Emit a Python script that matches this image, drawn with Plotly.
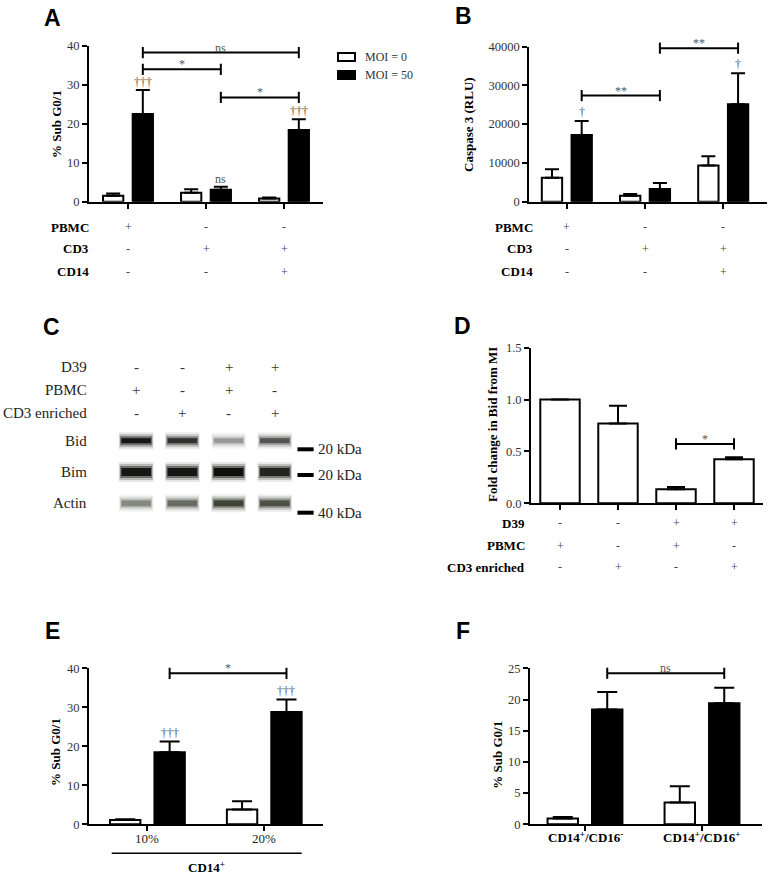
import plotly.graph_objects as go

W, H = 769, 877
SERIF = "Liberation Serif"
SANS = "Liberation Sans"

# ---------------- data ----------------
legend_labels = ["MOI = 0", "MOI = 50"]

a_rows = ["PBMC", "CD3", "CD14"]
a_signs = [["+", "-", "-"], ["-", "+", "+"], ["-", "-", "+"]]
a_moi0 = [1.5, 2.3, 0.85]
a_moi0_sem = [0.6, 0.9, 0.25]
a_moi50 = [22.5, 3.1, 18.4]
a_moi50_sem = [6.2, 0.75, 2.8]
a_marks = ["†††", "ns", "†††"]
a_brackets = [(0, 2, 38.3, "ns"), (0, 1, 34.0, "*"), (1, 2, 26.8, "*")]

b_rows = ["PBMC", "CD3", "CD14"]
b_signs = [["+", "-", "-"], ["-", "+", "+"], ["-", "-", "+"]]
b_moi0 = [6200, 1550, 9300]
b_moi0_sem = [2150, 430, 2400]
b_moi50 = [17200, 3270, 25100]
b_moi50_sem = [3600, 1530, 8000]
b_marks = ["†", "", "†"]
b_brackets = [(0, 1, 27350, "**"), (1, 2, 39570, "**")]

c_rows = ["D39", "PBMC", "CD3 enriched"]
c_signs = [["-", "-", "+", "+"], ["+", "-", "+", "-"], ["-", "+", "-", "+"]]
c_proteins = ["Bid", "Bim", "Actin"]
c_intensity = [[0.95, 0.75, 0.28, 0.55],
               [0.95, 0.95, 1.0, 0.85],
               [0.4, 0.55, 0.8, 0.7]]
c_ladder_labels = ["20 kDa", "20 kDa", "40 kDa"]
c_ladder_pos = [0.275, 1.096, 2.30]

d_rows = ["D39", "PBMC", "CD3 enriched"]
d_signs = [["-", "-", "+", "+"], ["+", "-", "+", "-"], ["-", "+", "-", "+"]]
d_fold = [1.0, 0.77, 0.135, 0.424]
d_sem = [0.0, 0.17, 0.022, 0.019]
d_brackets = [(2, 3, 0.572, "*")]

e_cats = ["10%", "20%"]
e_moi0 = [1.1, 3.8]
e_moi0_sem = [0.2, 2.1]
e_moi50 = [18.5, 28.8]
e_moi50_sem = [2.7, 3.2]
e_marks = ["†††", "†††"]
e_brackets = [(0, 1, 38.7, "*")]

f_cats = ["CD14<sup>+</sup>/CD16<sup>-</sup>", "CD14<sup>+</sup>/CD16<sup>+</sup>"]
f_moi0 = [0.91, 3.5]
f_moi0_sem = [0.27, 2.6]
f_moi50 = [18.4, 19.4]
f_moi50_sem = [2.8, 2.5]
f_brackets = [(0, 1, 24.2, "ns")]

# ---------------- helpers ----------------
OFF, BW = 0.19, 0.26
fig = go.Figure()
layout = dict(template="none", width=W, height=H, autosize=False,
              margin=dict(l=0, r=0, t=0, b=0, pad=0),
              paper_bgcolor="white", plot_bgcolor="white", showlegend=False,
              font=dict(family=SERIF, size=12, color="#222"))
annotations, shapes = [], []


def px(x):
    return x / W


def py(y):
    return 1 - y / H


def axref(n):
    return ("x" if n == 1 else f"x{n}"), ("y" if n == 1 else f"y{n}")


def add_axes(n, xd, yd, xr, yr, xticks, yticks, tickfmt=None):
    xn = "xaxis" if n == 1 else f"xaxis{n}"
    yn = "yaxis" if n == 1 else f"yaxis{n}"
    xa, ya = axref(n)
    common = dict(showline=True, linecolor="black", linewidth=2, ticks="outside",
                  ticklen=5, tickwidth=1.5, tickcolor="black", showgrid=False,
                  zeroline=False, fixedrange=True, automargin=False)
    layout[xn] = dict(domain=[px(xd[0]), px(xd[1])], range=xr, anchor=ya,
                      tickvals=xticks, showticklabels=False, **common)
    layout[yn] = dict(domain=[py(yd[1]), py(yd[0])], range=yr, anchor=xa,
                      tickvals=yticks, tickfont=dict(family=SERIF, size=12.5, color="#333"),
                      **common)
    if tickfmt:
        layout[yn]["tickformat"] = tickfmt


def grouped_bars(n, v0, s0, v1, s1, capw):
    xa, ya = axref(n)
    g = list(range(len(v0)))
    for vals, sems, fill, dx in [(v0, s0, "white", -OFF), (v1, s1, "black", OFF)]:
        fig.add_trace(go.Bar(
            x=[i + dx for i in g], y=vals, width=BW, xaxis=xa, yaxis=ya,
            marker=dict(color=fill, line=dict(color="black", width=2)),
            error_y=dict(type="data", symmetric=False, array=sems,
                         arrayminus=[0] * len(sems), color="black",
                         thickness=2, width=capw),
            hoverinfo="skip"))


def brackets(n, specs, dx):
    xa, ya = axref(n)
    for i, j, h, lab in specs:
        fig.add_trace(go.Scatter(
            x=[i + dx, j + dx], y=[h, h], xaxis=xa, yaxis=ya, mode="lines+markers",
            line=dict(color="black", width=2),
            marker=dict(symbol="line-ns", size=8, line=dict(color="black", width=2)),
            hoverinfo="skip", cliponaxis=False))
        annotations.append(dict(x=(i + j) / 2 + dx, y=h, xref=xa, yref=ya, text=lab,
                                showarrow=False, yanchor="middle", yshift=5,
                                font=dict(family=SERIF, size=12, color="#555")))


def marks(n, texts, vals, sems, dx, yshift=0):
    xa, ya = axref(n)
    for i, t in enumerate(texts):
        if t:
            annotations.append(dict(x=i + dx, y=vals[i] + sems[i], xref=xa, yref=ya,
                                    text=t, showarrow=False, yanchor="bottom",
                                    yshift=yshift,
                                    font=dict(family=SERIF, size=12, color="#555")))


def table(n, rows, signs, label_right, row_ys):
    xa, _ = axref(n)
    for r, (lab, ypx) in enumerate(zip(rows, row_ys)):
        annotations.append(dict(x=px(label_right), y=py(ypx), xref="paper", yref="paper",
                                text=f"<b>{lab}</b>", showarrow=False, xanchor="right",
                                font=dict(family=SERIF, size=13, color="black")))
        for gi, s in enumerate(signs[r]):
            annotations.append(dict(x=gi, y=py(ypx), xref=xa, yref="paper", text=s,
                                    showarrow=False,
                                    font=dict(family=SERIF, size=12, color="#444")))


def ytitle(text, xpx, ypx):
    annotations.append(dict(x=px(xpx), y=py(ypx), xref="paper", yref="paper",
                            text=f"<b>{text}</b>", showarrow=False, textangle=-90,
                            font=dict(family=SERIF, size=13, color="black")))


def letter(t, xpx, ypx):
    annotations.append(dict(x=px(xpx), y=py(ypx), xref="paper", yref="paper",
                            text=f"<b>{t}</b>", showarrow=False,
                            font=dict(family=SANS, size=23, color="black")))


# ---------------- Panel A ----------------
add_axes(1, (89, 323), (46, 201.7), [-0.5, 2.5], [0, 40], [0, 1, 2], [0, 10, 20, 30, 40])
grouped_bars(1, a_moi0, a_moi0_sem, a_moi50, a_moi50_sem, 7)
brackets(1, a_brackets, OFF)
marks(1, a_marks, a_moi50, a_moi50_sem, OFF, yshift=-1)
table(1, a_rows, a_signs, 91, [227, 248.5, 272])
ytitle("% Sub G0/1", 57, 124)
letter("A", 52, 18)

# legend (drawn in the gap between A and B)
for k, (lab, fill, ypx) in enumerate(zip(legend_labels, ["white", "black"], [57, 75])):
    shapes.append(dict(type="rect", xref="paper", yref="paper",
                       x0=px(338), x1=px(355), y0=py(ypx + 4), y1=py(ypx - 4),
                       fillcolor=fill, line=dict(color="black", width=2)))
    annotations.append(dict(x=px(363), y=py(ypx), xref="paper", yref="paper", text=lab,
                            showarrow=False, xanchor="left",
                            font=dict(family=SERIF, size=12, color="#333")))

# ---------------- Panel B ----------------
add_axes(2, (529.3, 766.7), (46.5, 201.7), [-0.48, 2.556], [0, 40000], [0, 1, 2],
         [0, 10000, 20000, 30000, 40000], tickfmt="d")
grouped_bars(2, b_moi0, b_moi0_sem, b_moi50, b_moi50_sem, 7)
brackets(2, b_brackets, OFF)
marks(2, b_marks, b_moi50, b_moi50_sem, OFF)
table(2, b_rows, b_signs, 535, [227, 248.5, 272])
ytitle("Caspase 3 (RLU)", 468, 125)
letter("B", 463, 16)

# ---------------- Panel C (western blot) ----------------
layout["xaxis3"] = dict(domain=[px(100), px(360)], range=[-0.782, 4.843], visible=False,
                        anchor="y3", fixedrange=True, automargin=False)
layout["yaxis3"] = dict(domain=[py(525), py(420)], range=[2.693, -0.661], visible=False,
                        anchor="x3", fixedrange=True, automargin=False)
band_thick = [7, 10, 8]
band_rgb = ["12,12,10", "12,12,10", "38,44,30"]
band_layers = [(10, 0.375, 0.10), (6, 0.36, 0.22), (2, 0.345, 0.45), (-2, 0.32, 0.95)]
for r, row in enumerate(c_intensity):
    for l, inten in enumerate(row):
        for extra, half, alpha in band_layers:
            fig.add_trace(go.Scatter(
                x=[l - half, l + half], y=[r, r], xaxis="x3", yaxis="y3", mode="lines",
                line=dict(color=f"rgba({band_rgb[r]},{min(alpha * inten, 1):.3f})",
                          width=max(band_thick[r] + extra, 1)),
                hoverinfo="skip"))
for lab, pos in zip(c_ladder_labels, c_ladder_pos):
    fig.add_trace(go.Scatter(x=[3.49, 3.84], y=[pos, pos], xaxis="x3", yaxis="y3",
                             mode="lines", line=dict(color="black", width=4),
                             hoverinfo="skip"))
    annotations.append(dict(x=3.9, y=pos, xref="x3", yref="y3", text=lab,
                            showarrow=False, xanchor="left",
                            font=dict(family=SERIF, size=15, color="#222")))
for r, prot in enumerate(c_proteins):
    annotations.append(dict(x=px(89), y=r, xref="paper", yref="y3", text=prot,
                            showarrow=False, xanchor="right",
                            font=dict(family=SERIF, size=15, color="#222")))
for r, (lab, ypx) in enumerate(zip(c_rows, [367, 390, 412.7])):
    annotations.append(dict(x=px(89), y=py(ypx), xref="paper", yref="paper", text=lab,
                            showarrow=False, xanchor="right",
                            font=dict(family=SERIF, size=15, color="#222")))
    for l, s in enumerate(c_signs[r]):
        annotations.append(dict(x=l, y=py(ypx), xref="x3", yref="paper", text=s,
                                showarrow=False,
                                font=dict(family=SERIF, size=15, color="#333")))
letter("C", 51, 327)

# ---------------- Panel D ----------------
add_axes(4, (531, 763), (347.7, 503.3), [-0.5, 3.5], [0, 1.5], [0, 1, 2, 3],
         [0, 0.5, 1.0, 1.5], tickfmt=".1f")
fig.add_trace(go.Bar(x=list(range(len(d_fold))), y=d_fold, width=0.68, xaxis="x4",
                     yaxis="y4", marker=dict(color="white", line=dict(color="black", width=2)),
                     error_y=dict(type="data", symmetric=False, array=d_sem,
                                  arrayminus=[0] * len(d_sem), color="black",
                                  thickness=2, width=9),
                     hoverinfo="skip"))
brackets(4, d_brackets, 0)
table(4, d_rows, d_signs, 527, [523.3, 545.7, 567.3])
ytitle("Fold change in Bid from MI", 493, 425)
letter("D", 462.5, 326.5)

# ---------------- Panel E ----------------
add_axes(5, (89, 322.7), (668.3, 824.3), [-0.5, 1.5], [0, 40], [0, 1], [0, 10, 20, 30, 40])
grouped_bars(5, e_moi0, e_moi0_sem, e_moi50, e_moi50_sem, 10)
brackets(5, e_brackets, OFF)
marks(5, e_marks, e_moi50, e_moi50_sem, OFF)
for i, c in enumerate(e_cats):
    annotations.append(dict(x=i, y=py(838.3), xref="x5", yref="paper", text=c,
                            showarrow=False, font=dict(family=SERIF, size=13, color="#222")))
shapes.append(dict(type="line", xref="paper", yref="paper", x0=px(111.7), x1=px(301.7),
                   y0=py(853.3), y1=py(853.3), line=dict(color="black", width=1.5)))
annotations.append(dict(x=px(206.7), y=py(867), xref="paper", yref="paper",
                        text="<b>CD14<sup>+</sup></b>", showarrow=False,
                        font=dict(family=SERIF, size=13, color="black")))
ytitle("% Sub G0/1", 55, 752)
letter("E", 52, 630.5)

# ---------------- Panel F ----------------
add_axes(6, (530, 761.7), (668.3, 824.3), [-0.47, 1.51], [0, 25], [0, 1],
         [0, 5, 10, 15, 20, 25])
grouped_bars(6, f_moi0, f_moi0_sem, f_moi50, f_moi50_sem, 10)
brackets(6, f_brackets, OFF)
for i, c in enumerate(f_cats):
    annotations.append(dict(x=i, y=py(837), xref="x6", yref="paper", text=f"<b>{c}</b>",
                            showarrow=False, font=dict(family=SERIF, size=13, color="black")))
ytitle("% Sub G0/1", 496.7, 755)
letter("F", 463, 630.5)

# paper-referenced annotations must be centred explicitly (plotly 'auto' snaps to sides)
for a in annotations:
    a.setdefault("xanchor", "center")
    a.setdefault("yanchor", "middle")

layout["annotations"] = annotations
layout["shapes"] = shapes
fig.update_layout(**layout)
fig.write_html("out.html", config={"displayModeBar": False},
               post_script="document.body.style.margin='0';"
                           "document.body.style.overflow='hidden';")
